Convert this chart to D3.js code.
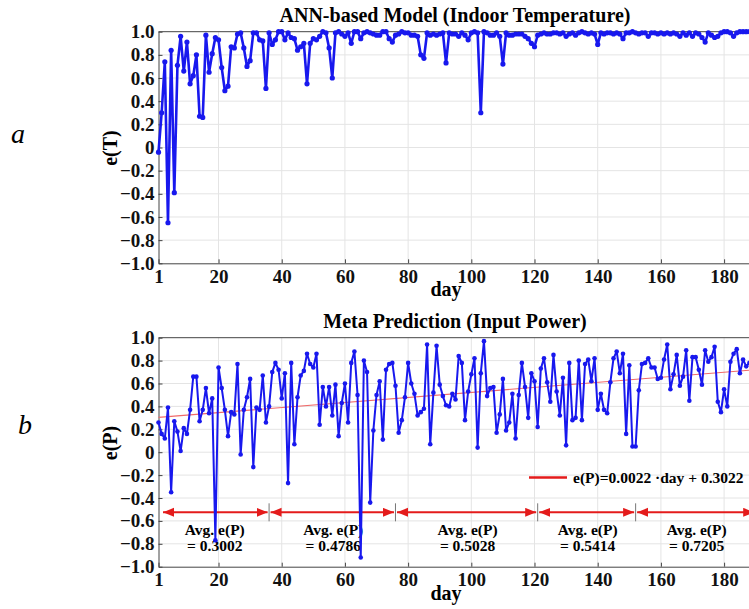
<!DOCTYPE html>
<html>
<head>
<meta charset="utf-8">
<script src="https://cdnjs.cloudflare.com/ajax/libs/d3/7.8.5/d3.min.js"></script>
<style>
body { margin:0; background:#fff; }
svg { display:block; font-family:"Liberation Serif","Times New Roman",serif; }
</style>
</head>
<body>
<div id="chart-area"></div>
<script>
// e(T) of the ANN-based model, one value per day (day 1..190)
var eT = [-0.04,0.30,0.74,-0.65,0.84,-0.39,0.71,0.96,0.66,0.91,
  0.55,0.62,0.80,0.27,0.26,0.97,0.65,0.81,0.95,0.93,
  0.69,0.49,0.53,0.87,0.86,0.98,0.99,0.86,0.70,0.75,
  0.99,0.99,0.93,0.92,0.51,0.99,0.89,0.93,1.00,1.00,
  0.93,0.99,0.95,0.94,0.84,0.87,0.90,0.55,0.90,0.94,
  0.93,0.96,1.00,0.99,0.86,0.60,0.99,1.00,0.98,0.96,
  0.99,0.90,1.00,1.00,0.94,0.99,1.00,0.99,0.98,0.97,
  0.97,1.00,1.00,0.94,0.91,0.97,0.98,1.00,0.99,0.99,
  0.97,0.97,0.96,0.80,0.77,0.99,0.97,0.98,0.97,0.98,
  0.99,0.73,0.99,0.98,0.98,0.96,0.99,0.97,0.93,0.99,
  1.00,0.99,0.30,1.00,0.99,0.97,0.97,0.99,0.96,0.72,
  0.99,0.97,0.97,0.98,0.98,0.98,0.96,0.94,0.90,0.87,
  0.97,0.98,0.99,0.98,0.98,0.99,0.99,0.98,0.99,0.96,
  0.98,0.99,0.97,0.99,1.00,0.99,0.98,0.99,0.98,0.89,
  0.99,0.98,0.99,0.99,0.98,0.99,0.98,0.94,0.99,0.99,
  1.00,0.99,0.98,0.99,0.99,0.96,0.99,0.99,0.98,0.99,
  0.98,0.99,0.98,0.99,0.98,0.96,0.99,0.97,0.99,0.96,
  0.99,0.98,0.95,0.91,0.99,0.97,0.95,0.96,0.99,1.00,
  1.00,0.99,0.96,0.99,1.00,1.00,1.00,1.00,1.00,1.00];

// e(P) of the meta prediction, one value per day (day 1..190)
var eP = [0.26,0.16,0.12,0.39,-0.35,0.27,0.18,0.01,0.21,0.16,
  0.37,0.66,0.66,0.27,0.37,0.56,0.34,0.47,-0.77,0.74,
  0.56,0.37,0.14,0.35,0.33,0.77,-0.02,0.37,0.48,0.64,
  -0.13,0.39,0.37,0.67,0.26,0.40,0.70,0.78,0.72,0.47,
  0.69,-0.27,0.78,0.07,0.48,0.67,0.71,0.86,0.77,0.74,
  0.86,0.24,0.57,0.40,0.57,0.32,0.59,0.14,0.43,0.60,
  0.26,0.78,0.88,0.50,-0.92,0.80,0.70,-0.44,0.19,0.50,
  0.62,0.11,0.72,0.77,0.78,0.58,0.17,0.28,0.48,0.78,
  0.60,0.51,0.32,0.35,0.38,0.94,0.07,0.52,0.93,0.59,
  0.49,0.41,0.40,0.51,0.46,0.84,0.78,0.28,0.53,0.68,
  0.82,0.04,0.69,0.97,0.49,0.56,0.57,0.17,0.33,0.64,
  0.19,0.26,0.51,0.12,0.50,0.78,0.57,0.30,0.69,0.62,
  0.22,0.73,0.82,0.61,0.44,0.85,0.53,0.32,0.65,0.06,
  0.78,0.28,0.30,0.80,0.28,0.77,0.81,0.62,0.82,0.37,
  0.51,0.37,0.34,0.61,0.82,0.88,0.69,0.86,0.16,0.76,
  0.05,0.05,0.54,0.77,0.78,0.82,0.74,0.74,0.64,0.65,
  0.81,0.94,0.55,0.68,0.85,0.58,0.66,0.89,0.45,0.83,
  0.83,0.72,0.59,0.89,0.79,0.83,0.92,0.44,0.35,0.55,
  0.40,0.79,0.86,0.90,0.69,0.81,0.75,0.78,0.72,0.80];

var days = d3.range(1, eP.length + 1);
var xTicks = [1, 20, 40, 60, 80, 100, 120, 140, 160, 180];
var yTicks = [1, 0.8, 0.6, 0.4, 0.2, 0, -0.2, -0.4, -0.6, -0.8, -1];
var segBounds = [1, 36, 76, 121, 152, 190];
var segAvg = ["0.3002", "0.4786", "0.5028", "0.5414", "0.7205"];
var fitSlope = 0.0022, fitIntercept = 0.3022;

var width = 749, height = 609;
var blue = "#1818ee", red = "#e41b1b";

var svg = d3.select("#chart-area")
  .append("svg")
  .attr("width", width)
  .attr("height", height);

// x scale shared by both panels (the picture is cut on the right)
var x = d3.scaleLinear().domain([1, 190]).range([158.5, 755.7]);

function yFmt(d) { return d === 0 ? "0" : d3.format(".1f")(d); }

function panel(cfg) {
  var y = d3.scaleLinear().domain([-1, 1]).range(cfg.yRange);
  var g = svg.append("g");

  // grid
  g.selectAll(".vg").data(xTicks.slice(1)).enter().append("line")
    .attr("x1", d => x(d)).attr("x2", d => x(d))
    .attr("y1", y(-1)).attr("y2", y(1))
    .attr("stroke", "#e4e4e4");
  g.selectAll(".hg").data(yTicks.slice(1, -1)).enter().append("line")
    .attr("x1", x(1)).attr("x2", x(190))
    .attr("y1", d => y(d)).attr("y2", d => y(d))
    .attr("stroke", "#e4e4e4");

  // box top
  g.append("line")
    .attr("x1", x(1)).attr("x2", x(190))
    .attr("y1", y(1)).attr("y2", y(1))
    .attr("stroke", "#444");

  // axes
  var yAxis = g.append("g")
    .attr("transform", "translate(" + x(1) + ",0)")
    .call(d3.axisLeft(y).tickValues(yTicks).tickFormat(yFmt).tickSize(-4).tickSizeOuter(0).tickPadding(4));
  var xAxis = g.append("g")
    .attr("transform", "translate(0," + y(-1) + ")")
    .call(d3.axisBottom(x).tickValues(xTicks).tickSize(-4).tickSizeOuter(0).tickPadding(6));
  [yAxis, xAxis].forEach(a => {
    a.attr("font-family", null).attr("font-size", 19).attr("font-weight", "bold");
    a.selectAll("path, line").attr("stroke", "#444");
    a.selectAll("text").attr("fill", "#111");
  });

  cfg.extra && cfg.extra(g, y);

  // series
  var line = d3.line().x((d, i) => x(days[i])).y(d => y(d));
  g.append("path")
    .datum(cfg.values)
    .attr("d", line)
    .attr("fill", "none")
    .attr("stroke", blue)
    .attr("stroke-width", cfg.lw)
    .attr("stroke-linejoin", "round");
  g.selectAll(".pt").data(cfg.values).enter().append("circle")
    .attr("cx", (d, i) => x(days[i]))
    .attr("cy", d => y(d))
    .attr("r", cfg.r)
    .attr("fill", blue);

  // texts
  g.append("text")
    .attr("x", 455).attr("y", cfg.titleY)
    .attr("text-anchor", "middle")
    .attr("font-size", 20).attr("font-weight", "bold")
    .text(cfg.title);
  g.append("text")
    .attr("x", 446).attr("y", y(-1) + 33)
    .attr("text-anchor", "middle")
    .attr("font-size", 20).attr("font-weight", "bold")
    .text("day");
  g.append("text")
    .attr("transform", "translate(117," + cfg.yLabelY + ") rotate(-90)")
    .attr("text-anchor", "middle")
    .attr("font-size", 20).attr("font-weight", "bold")
    .text(cfg.yLabel);
  g.append("text")
    .attr("x", cfg.tagX).attr("y", cfg.tagY)
    .attr("text-anchor", "middle")
    .attr("font-size", 28).attr("font-style", "italic")
    .text(cfg.tag);
  return y;
}

panel({
  values: eT, yRange: [263.3, 31.7], lw: 2.6, r: 2.6,
  title: "ANN-based Model (Indoor Temperature)", titleY: 22,
  yLabel: "e(T)", yLabelY: 148, tag: "a", tagX: 18, tagY: 143
});

// arrow head
svg.append("defs").append("marker")
  .attr("id", "head")
  .attr("markerUnits", "userSpaceOnUse")
  .attr("markerWidth", 12).attr("markerHeight", 10)
  .attr("refX", 11).attr("refY", 4.5)
  .attr("orient", "auto-start-reverse")
  .append("path")
  .attr("d", "M0,0 L11,4.5 L0,9 Z")
  .attr("fill", red);

panel({
  values: eP, yRange: [566.7, 337.7], lw: 2, r: 2.3,
  title: "Meta Prediction (Input Power)", titleY: 328,
  yLabel: "e(P)", yLabelY: 443, tag: "b", tagX: 25, tagY: 434,
  extra: function(g, y) {
    // linear fit
    g.append("line")
      .attr("x1", x(1)).attr("y1", y(fitSlope * 1 + fitIntercept))
      .attr("x2", x(190)).attr("y2", y(fitSlope * 190 + fitIntercept))
      .attr("stroke", "#f06a6a").attr("stroke-width", 1.2);

    // legend
    g.append("line")
      .attr("x1", 529).attr("x2", 567).attr("y1", 477.5).attr("y2", 477.5)
      .attr("stroke", red).attr("stroke-width", 2.5);
    g.append("text")
      .attr("x", 573).attr("y", 482.5)
      .attr("font-size", 15.5).attr("font-weight", "bold")
      .text("e(P)=0.0022 \u00b7day + 0.3022");

    // period arrows and averages
    var ay = y(-0.525);
    var segs = segAvg.map((a, i) => ({ a: a, s: segBounds[i], e: segBounds[i + 1] }));
    g.selectAll(".sep").data(segBounds.slice(1, -1)).enter().append("line")
      .attr("x1", d => x(d)).attr("x2", d => x(d))
      .attr("y1", ay - 9).attr("y2", ay + 9)
      .attr("stroke", "#777");
    g.selectAll(".arr").data(segs).enter().append("line")
      .attr("x1", (d, i) => x(d.s) + (i === 0 ? 4.5 : 1.5))
      .attr("x2", d => x(d.e) - 1.5)
      .attr("y1", ay).attr("y2", ay)
      .attr("stroke", red).attr("stroke-width", 2)
      .attr("marker-start", "url(#head)")
      .attr("marker-end", "url(#head)");
    var lab = g.selectAll(".avg").data(segs).enter().append("text")
      .attr("text-anchor", "middle")
      .attr("font-size", 15.5).attr("font-weight", "bold");
    lab.append("tspan")
      .attr("x", d => x((d.s + d.e) / 2) + 1).attr("y", 534.5)
      .text("Avg. e(P)");
    lab.append("tspan")
      .attr("x", d => x((d.s + d.e) / 2) + 1).attr("y", 551)
      .text(d => "= " + d.a);
  }
});
</script>
</body>
</html>
